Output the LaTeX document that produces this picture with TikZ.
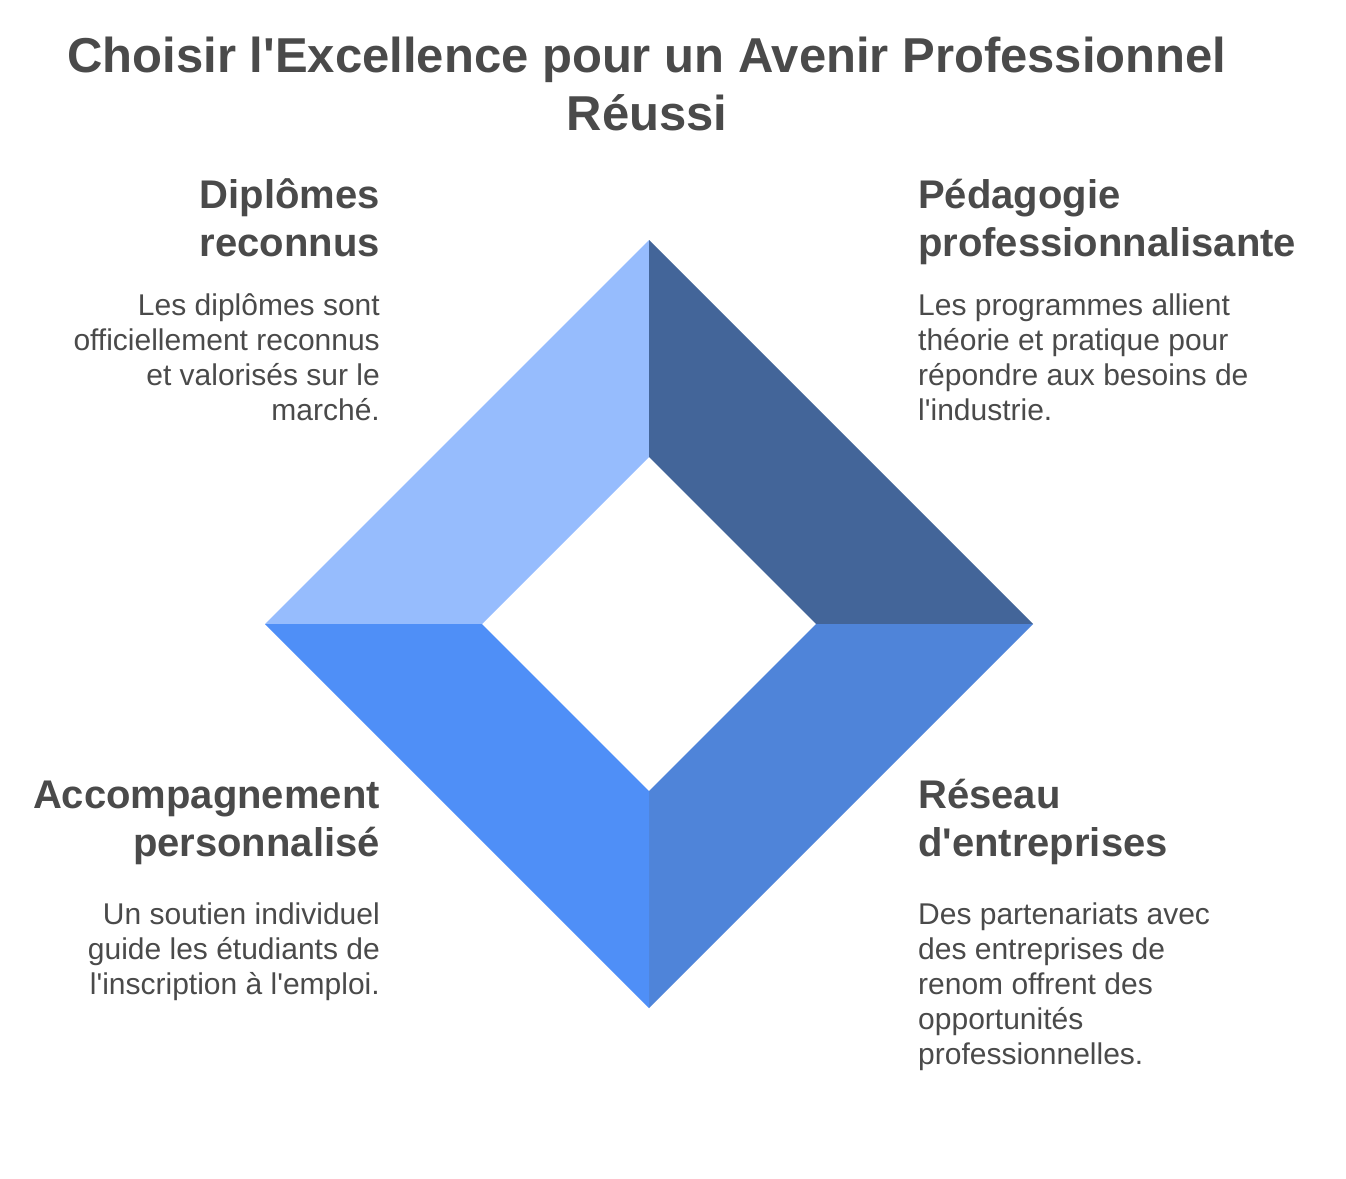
\documentclass[tikz,border=0pt]{standalone}
\usepackage{fontspec}
\setmainfont{Liberation Sans}

\definecolor{txtgray}{HTML}{4A4A4A}
\definecolor{tlblue}{HTML}{96BCFD}
\definecolor{trblue}{HTML}{436599}
\definecolor{brblue}{HTML}{4F84D9}
\definecolor{blblue}{HTML}{4F8FF7}

\tikzset{
  titletext/.style={font=\fontsize{49}{58}\selectfont\bfseries, align=center, anchor=north},
  headleft/.style={font=\fontsize{40}{48}\selectfont\bfseries, align=right, anchor=north east},
  headright/.style={font=\fontsize{40}{48}\selectfont\bfseries, align=left, anchor=north west},
  bodyleft/.style={font=\fontsize{30}{35}\selectfont, align=right, anchor=north east},
  bodyright/.style={font=\fontsize{30}{35}\selectfont, align=left, anchor=north west}
}
\newcommand{\hstrut}{\rule{0pt}{32pt}}
\newcommand{\bstrut}{\rule{0pt}{24pt}}
\newcommand{\ap}{\textquotesingle}

\begin{document}
\begin{tikzpicture}[x=1pt,y=-1pt]

  \useasboundingbox (0,0) rectangle (1346,1178);

  % outer and inner diamond corners
  \coordinate (ot) at (649,240);
  \coordinate (or) at (1033,624);
  \coordinate (ob) at (649,1008);
  \coordinate (ol) at (265,624);
  \coordinate (it) at (649,457);
  \coordinate (ir) at (816,624);
  \coordinate (ib) at (649,791);
  \coordinate (il) at (482,624);

  \fill[tlblue] (ol) -- (ot) -- (it) -- (il) -- cycle;
  \fill[trblue] (ot) -- (or) -- (ir) -- (it) -- cycle;
  \fill[brblue] (or) -- (ob) -- (ib) -- (ir) -- cycle;
  \fill[blblue] (ob) -- (ol) -- (il) -- (ib) -- cycle;

  \begin{scope}[every node/.style={text=txtgray, inner sep=0pt}]
    \node[titletext] (title) at (647,34)
      {\rule{0pt}{38pt}Choisir l\ap Excellence pour un Avenir Professionnel\\ Réussi};

    \node[headleft] (diplh) at (380,176) {\hstrut Diplômes\\ reconnus};
    \node[bodyleft] (diplb) at (380,291)
      {\bstrut Les diplômes sont\\ officiellement reconnus\\ et valorisés sur le\\ marché.};

    \node[headright] (pedah) at (918,176) {\hstrut Pédagogie\\ professionnalisante};
    \node[bodyright] (pedab) at (918,291)
      {\bstrut Les programmes allient\\ théorie et pratique pour\\ répondre aux besoins de\\ l\ap industrie.};

    \node[headleft] (accoh) at (380,776) {\hstrut Accompagnement\\ personnalisé};
    \node[bodyleft] (accob) at (380,900)
      {\bstrut Un soutien individuel\\ guide les étudiants de\\ l\ap inscription à l\ap emploi.};

    \node[headright] (reseh) at (918,776) {\hstrut Réseau\\ d\ap entreprises};
    \node[bodyright] (reseb) at (918,900)
      {\bstrut Des partenariats avec\\ des entreprises de\\ renom offrent des\\ opportunités\\ professionnelles.};
  \end{scope}

\end{tikzpicture}
\end{document}
